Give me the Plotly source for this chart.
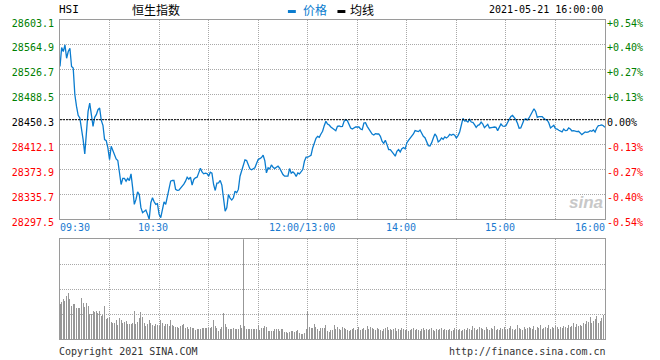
import plotly.graph_objects as go

# trading minutes after 09:30 (lunch break 12:00-13:00 removed)
minutes = list(range(331))

price = [
    28531.8, 28560.8, 28554.7, 28564.9, 28544.5, 28554.7, 28559.8, 28531.8, 28529.3, 28488.5,
    28470.7, 28457.0, 28452.9, 28437.6, 28419.8, 28397.9, 28432.5, 28463.1, 28475.8, 28453.9,
    28440.1, 28453.9, 28458.0, 28465.6, 28468.2, 28449.3, 28441.7, 28419.8, 28418.2, 28407.0,
    28389.2, 28409.6, 28403.0, 28395.8, 28390.2, 28387.7, 28366.3, 28351.0, 28360.2, 28360.2,
    28356.1, 28360.2, 28357.1, 28367.3, 28345.9, 28320.5, 28328.1, 28339.8, 28335.7, 28315.4,
    28307.7, 28309.3, 28311.8, 28305.2, 28297.5, 28323.0, 28330.6, 28324.5, 28320.5, 28321.5,
    28305.2, 28300.1, 28310.3, 28324.5, 28320.5, 28333.2, 28345.9, 28356.1, 28357.1, 28357.1,
    28343.4, 28341.9, 28342.4, 28344.9, 28348.0, 28351.5, 28356.1, 28362.2, 28359.2, 28362.2,
    28350.0, 28358.7, 28361.2, 28362.2, 28368.8, 28375.9, 28370.3, 28367.3, 28368.3, 28367.8,
    28363.7, 28369.8, 28368.3, 28351.0, 28341.8, 28353.0, 28353.5, 28357.1, 28350.0, 28325.5,
    28310.2, 28315.3, 28335.7, 28330.1, 28327.1, 28330.6, 28340.8, 28338.3, 28343.4, 28363.7,
    28372.4, 28379.0, 28388.7, 28387.7, 28381.5, 28374.9, 28373.4, 28375.4, 28376.5, 28383.1,
    28389.2, 28390.7, 28392.2, 28395.8, 28387.7, 28368.8, 28376.5, 28374.9, 28381.0, 28377.5,
    28375.4, 28377.5, 28379.0, 28375.9, 28369.8, 28366.3, 28363.7, 28363.2, 28363.7, 28375.4,
    28368.3, 28370.3, 28367.8, 28363.2, 28368.8, 28367.3, 28369.8, 28373.9, 28386.6, 28392.8,
    28392.8, 28394.3, 28395.8, 28407.0, 28415.7, 28421.8, 28424.8, 28423.3, 28428.4, 28432.5,
    28441.1, 28447.8, 28443.7, 28442.2, 28439.1, 28437.6, 28436.0, 28433.5, 28440.1, 28440.6,
    28439.6, 28440.1, 28447.8, 28450.3, 28448.8, 28443.7, 28437.6, 28436.0, 28438.1, 28439.1,
    28439.1, 28439.1, 28436.0, 28435.0, 28445.2, 28445.7, 28440.1, 28436.0, 28431.5, 28428.4,
    28426.9, 28428.9, 28428.4, 28428.4, 28424.8, 28417.2, 28414.1, 28418.7, 28412.1, 28404.5,
    28404.5, 28401.9, 28397.8, 28394.3, 28401.9, 28404.5, 28400.9, 28406.0, 28407.5, 28405.5,
    28414.7, 28418.7, 28421.8, 28424.8, 28428.4, 28433.5, 28432.5, 28432.0, 28434.5, 28429.9,
    28424.8, 28422.8, 28417.2, 28410.6, 28410.1, 28414.7, 28421.8, 28428.4, 28424.8, 28416.2,
    28418.2, 28422.3, 28420.3, 28423.8, 28422.3, 28424.3, 28427.9, 28426.4, 28427.9, 28426.4,
    28422.3, 28425.9, 28431.5, 28442.7, 28452.3, 28448.3, 28448.8, 28446.7, 28450.8, 28446.7,
    28446.2, 28442.7, 28438.6, 28441.6, 28442.7, 28446.7, 28443.7, 28438.1, 28441.6, 28443.2,
    28437.6, 28438.6, 28438.6, 28439.1, 28438.6, 28433.5, 28440.1, 28443.7, 28440.6, 28440.1,
    28441.1, 28446.2, 28451.8, 28455.4, 28456.9, 28453.4, 28450.3, 28444.7, 28437.1, 28437.6,
    28442.7, 28450.3, 28451.8, 28449.8, 28452.9, 28457.9, 28463.0, 28467.1, 28463.0, 28453.9,
    28454.9, 28455.4, 28454.9, 28452.3, 28450.3, 28449.8, 28445.2, 28437.6, 28439.1, 28441.6,
    28436.6, 28436.0, 28434.0, 28432.5, 28431.5, 28436.0, 28433.5, 28434.0, 28437.6, 28436.0,
    28433.0, 28433.5, 28432.5, 28432.0, 28432.5, 28429.9, 28427.4, 28429.4, 28431.5, 28431.0,
    28431.5, 28433.5, 28432.5, 28434.5, 28431.5, 28437.6, 28441.1, 28441.6, 28442.2, 28441.1,
    28438.6,
]

volume = [
    35, 37, 40, 38, 43, 46, 40, 33, 35, 35,
    31, 31, 31, 41, 36, 32, 36, 33, 25, 25,
    28, 27, 28, 26, 28, 23, 24, 33, 20, 21,
    22, 17, 16, 16, 19, 14, 21, 19, 16, 17,
    18, 15, 15, 15, 16, 28, 15, 17, 21, 27,
    22, 16, 13, 15, 19, 16, 14, 13, 15, 14,
    13, 19, 16, 13, 15, 15, 13, 19, 14, 13,
    12, 12, 11, 13, 14, 15, 11, 12, 10, 12,
    11, 11, 9, 10, 10, 10, 11, 11, 11, 11,
    11, 11, 12, 19, 13, 11, 8, 10, 12, 26,
    15, 12, 10, 10, 10, 11, 10, 10, 10, 14,
    11, 100, 13, 10, 10, 10, 10, 10, 10, 10,
    14, 9, 11, 11, 13, 12, 8, 8, 8, 8,
    10, 10, 10, 8, 10, 10, 7, 7, 6, 7,
    8, 8, 7, 8, 9, 6, 5, 5, 6, 10,
    28, 12, 11, 11, 15, 12, 10, 8, 11, 11,
    11, 14, 8, 7, 9,
    9, 14, 10, 12, 10, 9, 12, 11, 10, 9,
    8, 9, 10, 11, 9, 10, 12, 9, 10, 11,
    9, 13, 10, 12, 11, 10, 9, 11, 10, 9,
    8, 10, 11, 12, 9, 10, 9, 10, 11, 8,
    10, 9, 11, 10, 9, 10, 8, 9, 10, 11,
    9, 10, 9, 8, 10, 11, 9, 10, 9, 10,
    11, 9, 8, 10, 9, 10, 11, 9, 10, 9,
    9, 10, 8, 9, 11, 10, 9, 10, 8, 9,
    10, 9, 11, 10, 9, 13, 11, 9, 10, 12,
    11, 10, 9, 12, 10, 9, 11, 10, 13, 9,
    10, 9, 11, 10, 12, 9, 10, 11, 13, 10,
    9, 10, 14, 11, 10, 9, 12, 10, 11, 12,
    11, 10, 13, 9, 12, 11, 14, 10, 11, 12,
    11, 14, 10, 12, 11, 13, 12, 10, 12, 11,
    13, 12, 11, 14, 12, 13, 16, 12, 15, 13,
    14, 13, 16, 15, 18, 17, 22, 16, 18, 20,
    23, 16, 18, 21, 24, 26,
]

prev_close = 28450.3
price_levels = [28297.5, 28335.7, 28373.9, 28412.1, 28450.3, 28488.5, 28526.7, 28564.9, 28603.1]
pct_labels = ["-0.54%", "-0.40%", "-0.27%", "-0.13%", "0.00%", "+0.13%", "+0.27%", "+0.40%", "+0.54%"]
grid_minutes = [0, 30, 60, 90, 120, 150, 180, 210, 240, 270, 300, 330]
time_tick_minutes = [0, 60, 150, 210, 270, 330]
time_tick_labels = ["09:30", "10:30", "12:00/13:00", "14:00", "15:00", "16:00"]
volume_grid = [25, 50, 75]
volume_max = 100

LINE_BLUE = "#0a7ccf"
LABEL_BLUE = "#1a7ad0"
GREEN = "#008000"
RED = "#ff0000"
BORDER = "#9a9a9a"
GRID = "#a8a8a8"
MONO = "DejaVu Sans Mono, Liberation Mono, monospace"


def level_color(v):
    if abs(v - prev_close) < 1e-6:
        return "#000000"
    return GREEN if v > prev_close else RED


left_text = [f'<span style="color:{level_color(v)}">{v:.1f}</span>' for v in price_levels]
right_text = [f'<span style="color:{level_color(v)}">{t}</span>' for v, t in zip(price_levels, pct_labels)]

fig = go.Figure()
fig.add_trace(go.Scatter(x=minutes, y=price, mode="lines",
                         line=dict(color=LINE_BLUE, width=1.3),
                         xaxis="x", yaxis="y", hoverinfo="skip"))
fig.add_trace(go.Scatter(x=[minutes[0], minutes[-1]], y=[prev_close, prev_close], mode="lines",
                         line=dict(color="#000000", width=1, dash="2px,1px"),
                         xaxis="x", yaxis="y2", hoverinfo="skip"))
fig.add_trace(go.Bar(x=minutes, y=volume, width=0.6,
                     marker=dict(color="rgba(150,150,150,0.99)", line=dict(width=0)),
                     xaxis="x2", yaxis="y3", hoverinfo="skip"))

axis_common = dict(showline=True, linecolor=BORDER, linewidth=1, mirror=True,
                   zeroline=False, ticks="", showgrid=True, gridcolor=GRID,
                   gridwidth=1, griddash="1px,1px")

main_dom = [(340 - 220) / 320, 1.0]
vol_dom = [0.0, (340 - 240) / 320]

fig.update_layout(
    width=660, height=360,
    margin=dict(l=55, r=55, t=20, b=20, pad=0),
    paper_bgcolor="white", plot_bgcolor="white",
    showlegend=False, bargap=0, bargroupgap=0,
    font=dict(family=MONO, size=10, color="#000"),
    xaxis=dict(domain=[0, 1], range=[0, 330], anchor="y", tickvals=grid_minutes,
               showticklabels=False, **axis_common),
    yaxis=dict(domain=main_dom, range=[price_levels[0], price_levels[-1]], anchor="x",
               tickvals=price_levels, ticktext=left_text, tickfont=dict(family=MONO, size=10),
               ticklabelstandoff=3, ticklabelshift=3, **axis_common),
    yaxis2=dict(domain=main_dom, range=[price_levels[0], price_levels[-1]], overlaying="y",
                side="right", anchor="x", tickvals=price_levels, ticktext=right_text,
                tickfont=dict(family=MONO, size=10), ticklabelstandoff=1, ticklabelshift=3,
                showgrid=False, zeroline=False, showline=False, ticks=""),
    xaxis2=dict(domain=[0, 1], range=[0, 330], anchor="y3", tickvals=grid_minutes,
                showticklabels=False, **axis_common),
    yaxis3=dict(domain=vol_dom, range=[0, volume_max], anchor="x2", tickvals=volume_grid,
                showticklabels=False, **axis_common),
)

# time labels between the panels
for i, (m, lab) in enumerate(zip(time_tick_minutes, time_tick_labels)):
    if i == 0:
        anchor, shift = "left", -2
    elif i == len(time_tick_minutes) - 1:
        anchor, shift = "right", 2
    else:
        anchor, shift = "center", -6
    fig.add_annotation(x=m, xref="x", y=(340 - 228) / 320, yref="paper", text=lab,
                       showarrow=False, xanchor=anchor, yanchor="middle", xshift=shift,
                       font=dict(family=MONO, size=10, color=LABEL_BLUE))

# header
def header(xpix, ypix, text, anchor="left", color="#000", family=MONO, size=10):
    shift = -3 if anchor == "left" else (3 if anchor == "right" else 0)
    fig.add_annotation(x=(xpix - 55) / 550, xref="paper", y=(340 - ypix) / 320, yref="paper",
                       text=text, showarrow=False, xanchor=anchor, yanchor="middle",
                       xshift=shift, font=dict(family=family, size=size, color=color))

header(55, 9, "HSI", size=11)
header(129, 9, "恒生指数", family="Noto Sans CJK SC", size=12)
header(301, 9, "价格", color=LINE_BLUE, family="Noto Sans CJK SC", size=12)
header(349, 9, "均线", family="Noto Sans CJK SC", size=12)
header(602, 9, "2021-05-21 16:00:00", anchor="right")
header(55, 353, "Copyright 2021 SINA.COM", color="#333")
header(605, 353, "http://finance.sina.com.cn", anchor="right", color="#333")

# legend dashes
for x0, col in [(285, LINE_BLUE), (335, "#000")]:
    fig.add_shape(type="rect", xref="paper", yref="paper",
                  x0=(x0 - 55) / 550, x1=(x0 + 8 - 55) / 550,
                  y0=(340 - 13) / 320, y1=(340 - 10) / 320,
                  fillcolor=col, line=dict(width=0))

# watermark
fig.add_annotation(x=(586 - 55) / 550, xref="paper", y=(340 - 203) / 320, yref="paper",
                   text="<b><i>sina</i></b>", showarrow=False, xanchor="center", yanchor="middle",
                   font=dict(family="Liberation Sans", size=17, color="#c8c8c8"))

fig.write_html("out.html", config={"displayModeBar": False, "staticPlot": False},
               post_script="document.body.style.margin='0';document.body.style.overflow='hidden';")
